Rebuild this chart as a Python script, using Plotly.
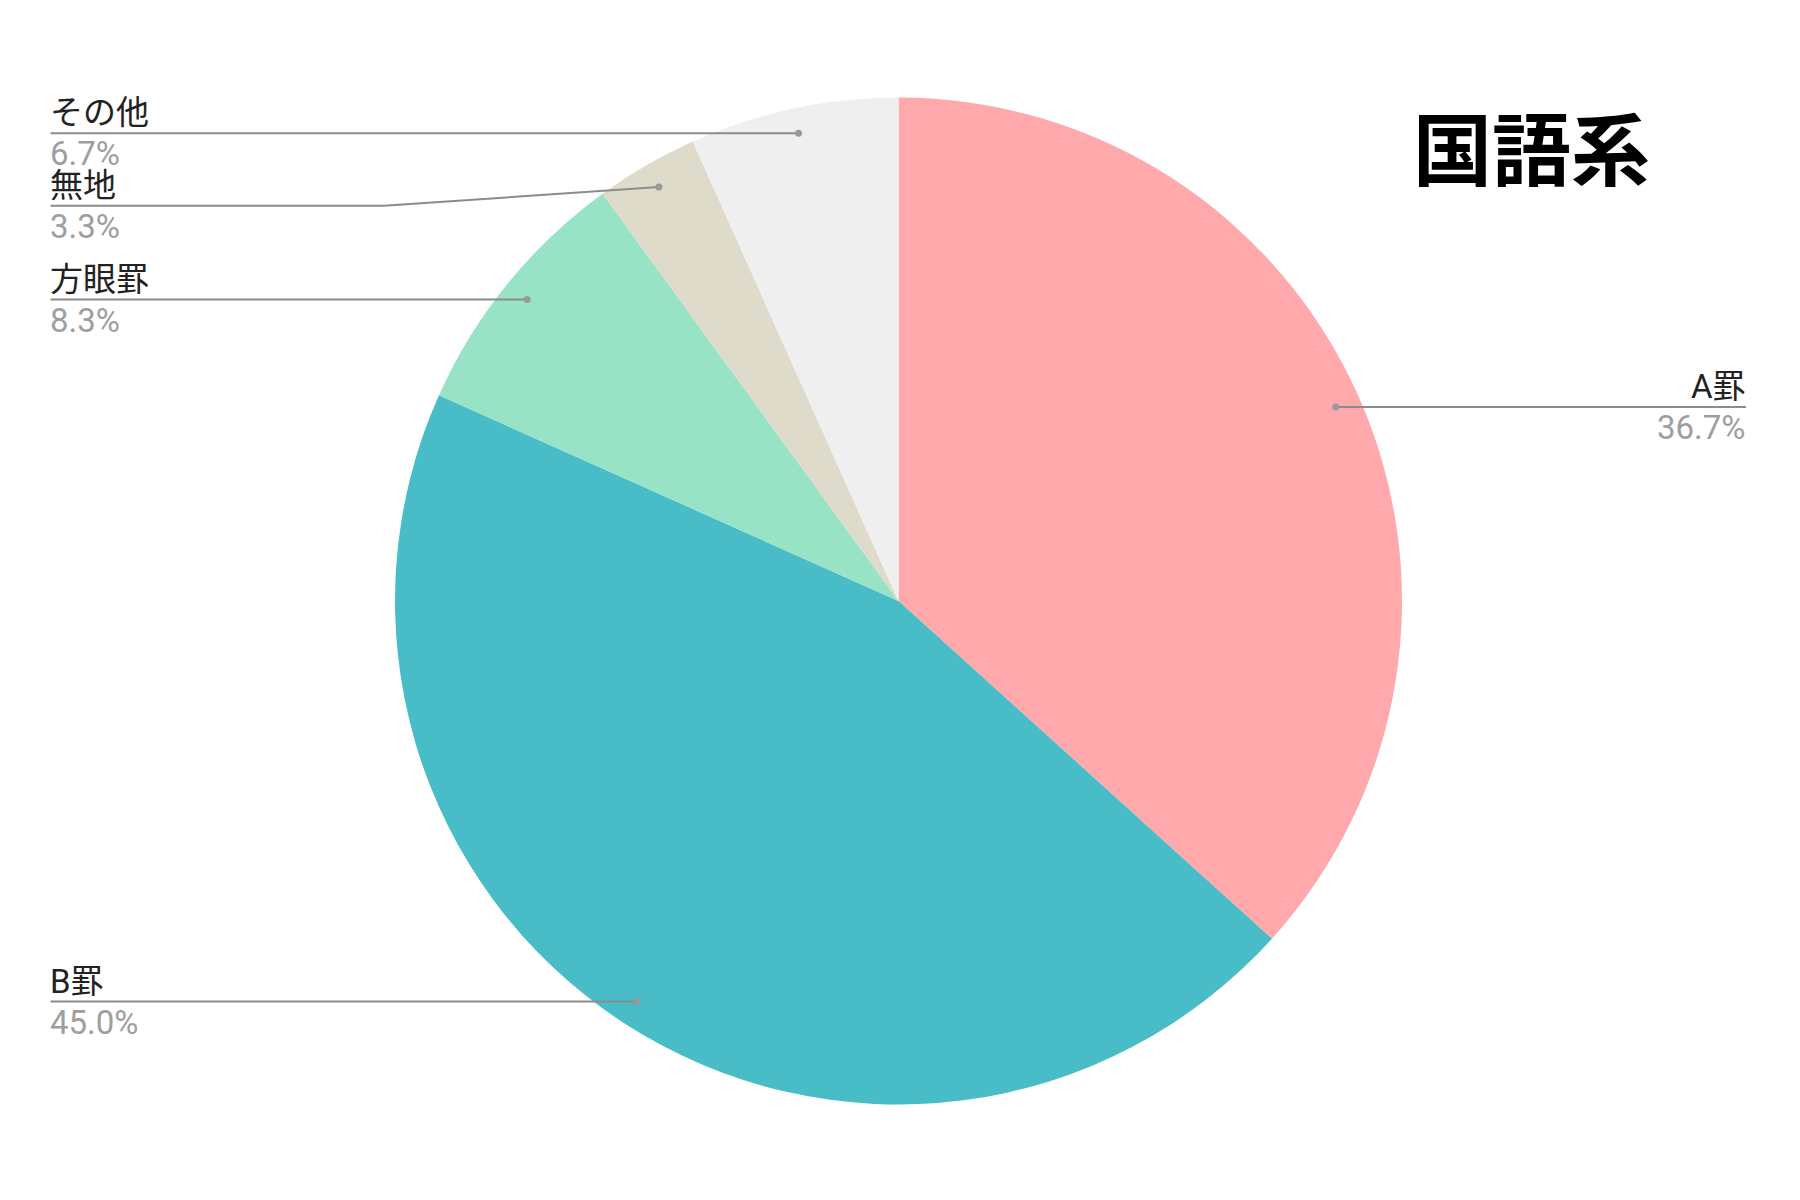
import math
import plotly.graph_objects as go

# ---- data ----
labels = ["A罫", "B罫", "方眼罫", "無地", "その他"]
values = [36.7, 45.0, 8.3, 3.3, 6.7]
colors = ["#FFA9AC", "#48BDC7", "#98E2C6", "#DFDBCB", "#EFEFEF"]
title_text = "国語系"

# ---- layout constants (pixels) ----
W, H = 1800, 1200
CX, CY, R = 898.5, 601.0, 503.5
DOT_R = 0.95          # leader dot position as fraction of radius
LEFT_X = 50.5
RIGHT_X = 1746.0
MIN_GAP = 72.5
BEND = 275.0
LINE_COLOR = "#8C8C8C"
FONT = "Roboto, 'Noto Sans CJK JP', sans-serif"
FS = 33


def px(x):
    return x / W


def py(y):
    return 1 - y / H


fig = go.Figure()
fig.add_trace(go.Pie(
    labels=labels, values=values, sort=False, direction="clockwise",
    rotation=0, marker=dict(colors=colors, line=dict(width=0)),
    textinfo="none", showlegend=False,
    domain=dict(x=[px(CX - R), px(CX + R)], y=[py(CY + R), py(CY - R)]),
))

total = sum(values)
cum = 0.0
items = []
for lab, v in zip(labels, values):
    mid = (cum + v / 2) / total
    cum += v
    th = 2 * math.pi * mid
    dx = CX + DOT_R * R * math.sin(th)
    dy = CY - DOT_R * R * math.cos(th)
    items.append(dict(label=lab, pct=f"{100 * v / total:.1f}%", dx=dx, dy=dy,
                      side="right" if math.sin(th) > 0 else "left"))

# label y positions with collision avoidance
for side in ("left", "right"):
    grp = sorted([it for it in items if it["side"] == side], key=lambda t: t["dy"])
    prev = None
    for it in grp:
        y = it["dy"]
        if prev is not None and y < prev + MIN_GAP:
            y = prev + MIN_GAP
        it["ly"] = y
        prev = y

shapes = []
annotations = []
for it in items:
    dx, dy, ly = it["dx"], it["dy"], it["ly"]
    if it["side"] == "left":
        ex = LEFT_X
        tx = ex - 2
        if abs(ly - dy) > 0.5:
            bx = dx - BEND
            path = f"M {px(ex)} {py(ly)} L {px(bx)} {py(ly)} L {px(dx)} {py(dy)}"
        else:
            path = f"M {px(ex)} {py(ly)} L {px(dx)} {py(dy)}"
        xanchor, align = "left", "left"
    else:
        ex = RIGHT_X
        tx = ex + 1
        path = f"M {px(dx)} {py(dy)} L {px(ex)} {py(ly)}"
        xanchor, align = "right", "right"
    shapes.append(dict(type="path", path=path, xref="paper", yref="paper",
                       line=dict(color=LINE_COLOR, width=2)))
    r = 3.5
    shapes.append(dict(type="circle", xref="paper", yref="paper",
                       x0=px(dx - r), x1=px(dx + r), y0=py(dy + r), y1=py(dy - r),
                       fillcolor="#999999", line=dict(width=0)))
    annotations.append(dict(text=it["label"], x=px(tx), y=py(ly), xref="paper", yref="paper",
                            xanchor=xanchor, yanchor="bottom", showarrow=False, align=align,
                            borderpad=0, font=dict(family=FONT, size=FS, color="#222222")))
    annotations.append(dict(text=it["pct"], x=px(tx), y=py(ly), xref="paper", yref="paper",
                            xanchor=xanchor, yanchor="top", showarrow=False, align=align,
                            borderpad=0, font=dict(family=FONT, size=FS, color="#9E9E9E")))

annotations.append(dict(text=f"<b>{title_text}</b>", x=px(1531), y=py(145), xref="paper", yref="paper",
                        xanchor="center", yanchor="middle", showarrow=False,
                        font=dict(family="'Noto Sans CJK JP', sans-serif", size=79, color="#000000")))

fig.update_layout(width=W, height=H, margin=dict(l=0, r=0, t=0, b=0),
                  paper_bgcolor="white", plot_bgcolor="white",
                  shapes=shapes, annotations=annotations)

fig.write_html("out.html", config={"displayModeBar": False},
               post_script="document.body.style.margin='0';")
